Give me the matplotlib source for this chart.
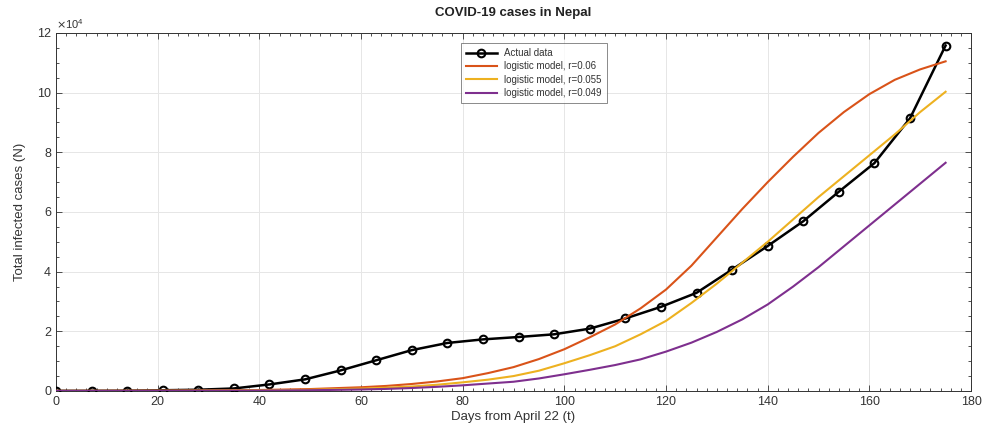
import matplotlib
matplotlib.use("Agg")
import matplotlib.pyplot as plt
from matplotlib.ticker import MultipleLocator, ScalarFormatter

plt.rcParams['font.family'] = ['Liberation Sans', 'DejaVu Sans']

# Observed cumulative cases, sampled weekly
days_actual = [0, 7, 14, 21, 28, 35, 42, 49, 56, 63, 70, 77, 84, 91, 98,
               105, 112, 119, 126, 133, 140, 147, 154, 161, 168, 175]
cases_actual = [45, 57, 99, 249, 427, 850, 2200, 3900, 6900, 10300, 13700,
                16100, 17300, 18100, 19000, 20900, 24300, 28200, 32900,
                40700, 48600, 56900, 66800, 76400, 91400, 115800]

# Logistic model curves (cases), sampled every 5 days
days_model = [0, 10, 20, 30, 40, 50, 60, 65, 70, 75, 80, 85, 90, 95, 100,
              105, 110, 115, 120, 125, 130, 135, 140, 145, 150, 155, 160,
              165, 170, 175]
model_r060 = [30, 50, 90, 170, 330, 650, 1250, 1700, 2350, 3200, 4300,
              6000, 8000, 10700, 14000, 18000, 22300, 27700, 34000, 42000,
              51500, 61000, 70000, 78500, 86500, 93500, 99500, 104300,
              107800, 110500]
model_r055 = [20, 40, 70, 120, 200, 400, 800, 1100, 1500, 2100, 2900, 3800,
              5000, 6800, 9300, 12000, 15000, 19000, 23500, 29500, 36000,
              43000, 50000, 57500, 65000, 72000, 79000, 86000, 93500, 100300]
model_r049 = [20, 30, 50, 80, 130, 250, 500, 700, 1000, 1400, 1900, 2500,
              3100, 4200, 5600, 7100, 8700, 10600, 13200, 16200, 19800,
              24000, 29000, 35000, 41500, 48500, 55500, 62500, 69500, 76500]

labels = ['Actual data', 'logistic model, r=0.06',
          'logistic model, r=0.055', 'logistic model, r=0.049']


class TenThousands(ScalarFormatter):
    """Scale the axis by a fixed 10^4 and show integer tick labels."""
    def _set_order_of_magnitude(self):
        self.orderOfMagnitude = 4

    def _set_format(self):
        self.format = '%d'


fig = plt.figure(figsize=(9.84, 4.41), dpi=100)
ax = fig.add_axes([0.0569, 0.1134, 0.9299, 0.8118])

ax.plot(days_actual, cases_actual, '-o', color='black', lw=1.8,
        ms=5.5, mfc='none', mec='black', mew=1.5, label=labels[0], zorder=3)
ax.plot(days_model, model_r060, color='#D95319', lw=1.5, label=labels[1], zorder=4)
ax.plot(days_model, model_r055, color='#EDB120', lw=1.5, label=labels[2], zorder=4)
ax.plot(days_model, model_r049, color='#7E2F8E', lw=1.5, label=labels[3], zorder=4)

ax.set_xlim(0, 180)
ax.set_ylim(0, 120000)
ax.xaxis.set_major_locator(MultipleLocator(20))
ax.xaxis.set_minor_locator(MultipleLocator(2))
ax.yaxis.set_major_locator(MultipleLocator(20000))
ax.yaxis.set_minor_locator(MultipleLocator(5000))

fmt = TenThousands(useMathText=True)
ax.yaxis.set_major_formatter(fmt)
off = ax.yaxis.get_offset_text()
off.set_fontsize(8)
off.set_color('#333333')

ax.tick_params(which='both', direction='in', top=True, right=True,
               colors='#333333', labelsize=9, width=0.6)
ax.tick_params(which='major', length=4)
ax.tick_params(which='minor', length=2)
for s in ax.spines.values():
    s.set_color('#333333')
    s.set_linewidth(0.7)

ax.grid(True, which='major', color='#e6e6e6', lw=0.7, zorder=0)
ax.set_axisbelow(True)

ax.set_title('COVID-19 cases in Nepal', fontsize=9.5, fontweight='bold',
             color='#222222', pad=12)
ax.set_xlabel('Days from April 22 (t)', fontsize=9.5, color='#333333', labelpad=2)
ax.set_ylabel('Total infected cases (N)', fontsize=9.5, color='#333333', labelpad=8)

leg = ax.legend(loc='upper left', bbox_to_anchor=(0.437, 0.985), fontsize=7,
                frameon=True, fancybox=False, edgecolor='#555555',
                handlelength=3.2, borderpad=0.5, labelspacing=0.35)
leg.get_frame().set_linewidth(0.6)
for t in leg.get_texts():
    t.set_color('#333333')

fig.savefig('out.png', dpi=100)
